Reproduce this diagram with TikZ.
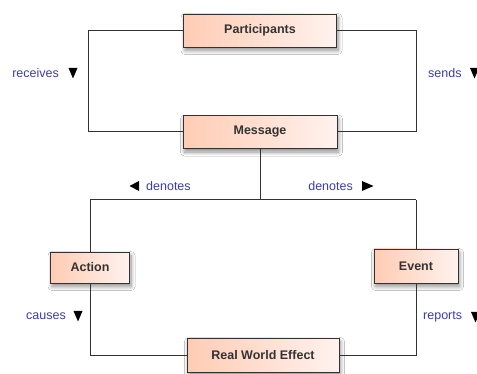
\documentclass[tikz,border=0pt]{standalone}
\usepackage{fontspec}
\setmainfont{Liberation Sans}
\usetikzlibrary{shadows.blur,calc}
\definecolor{boxL}{RGB}{255,204,180}
\definecolor{boxR}{RGB}{255,242,238}
\definecolor{lbl}{RGB}{60,60,175}
\definecolor{ln}{RGB}{50,50,50}
\tikzset{
  box/.style={draw=ln, line width=0.9pt, left color=boxL, right color=boxR,
    minimum height=33pt, inner sep=0pt, font=\fontsize{12.5}{14}\selectfont\bfseries,
    text=black!80, blur shadow={shadow xshift=1.5pt, shadow yshift=-3.5pt, shadow blur steps=8, shadow blur radius=4pt, shadow opacity=45}},
  conn/.style={draw=ln, line width=1pt},
  lab/.style={text=lbl, font=\fontsize{12.5}{14}\selectfont, inner sep=0pt},
}
\begin{document}
\begin{tikzpicture}[x=1pt,y=-1pt]
\useasboundingbox (0,0) rectangle (477,374);
\fill[white] (0,0) rectangle (477,374);
% boxes
\node[box, minimum width=153pt] (part) at (260,30.5) {Participants};
\node[box, minimum width=154pt] (msg) at (260,132) {Message};
\node[box, minimum width=79pt, minimum height=31pt] (act) at (90,267.5) {Action};
\node[box, minimum width=84pt, minimum height=34pt] (evt) at (416,266) {Event};
\node[box, minimum width=152pt, minimum height=34pt] (rwe) at (263,355) {Real World Effect};
% coordinates
\coordinate (tl) at (88,30.5);
\coordinate (tr) at (416,30.5);
\coordinate (mj) at (260,200);
\coordinate (jl) at (90,200);
\coordinate (jr) at (416,200);
\coordinate (bl) at (90,355);
\coordinate (br) at (416,355);
% connectors
\draw[conn] (part.west) -- (tl) |- (msg.west);
\draw[conn] (part.east) -- (tr) |- (msg.east);
\draw[conn] (msg.south) -- (mj);
\draw[conn] (jl) -- (jr);
\draw[conn] (jl) -- (act.north);
\draw[conn] (jr) -- (evt.north);
\draw[conn] (act.south) -- (bl) -- (rwe.west);
\draw[conn] (evt.south) -- (br) -- (rwe.east);
% labels
\node[lab, anchor=east] (lrec) at (59,73) {receives};
\node[lab, anchor=west] (lsend) at (428,73) {sends};
\node[lab, anchor=west] (lden1) at (146,186) {denotes};
\node[lab, anchor=east] (lden2) at (353,186) {denotes};
\node[lab, anchor=east] (lcau) at (66,316) {causes};
\node[lab, anchor=west] (lrep) at (423,317) {reports};
% triangles
\fill[black] (68.5,68) -- (77.5,68) -- (73,78.5) -- cycle;
\fill[black] (470,68) -- (479,68) -- (474.5,78.5) -- cycle;
\fill[black] (129.5,186) -- (139,181) -- (139,191) -- cycle;
\fill[black] (373.5,186) -- (362,181) -- (362,191) -- cycle;
\fill[black] (73.5,311) -- (82.5,311) -- (78,321.5) -- cycle;
\fill[black] (471,312) -- (480,312) -- (475.5,322.5) -- cycle;
\end{tikzpicture}
\end{document}
